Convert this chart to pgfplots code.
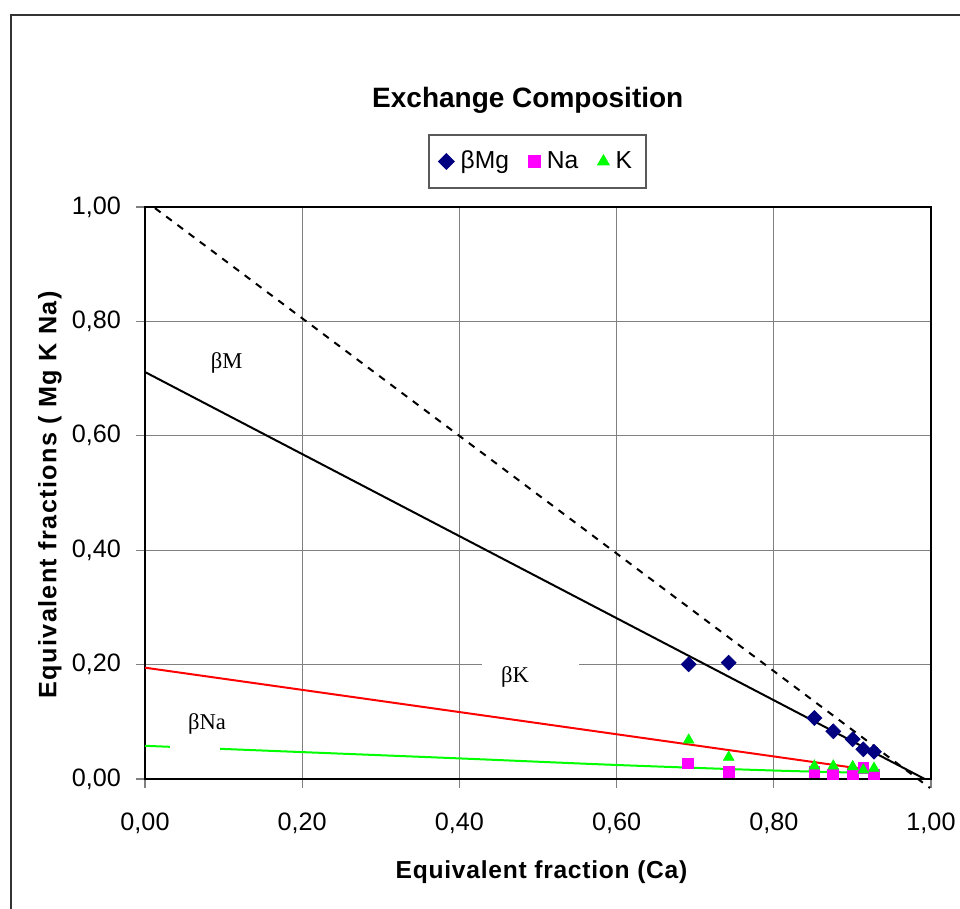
\documentclass[border=0pt]{standalone}
\usepackage{fontspec}
\setmainfont{Liberation Sans}
\newfontfamily\timesf{Liberation Serif}
\usepackage{pgfplots}
\pgfplotsset{compat=1.18}

\definecolor{mgblue}{RGB}{0,0,128}
\definecolor{namag}{RGB}{255,0,255}
\definecolor{kgreen}{RGB}{0,255,0}

\begin{document}
\begin{tikzpicture}
\useasboundingbox (-72.5pt,-65pt) rectangle (407.5pt,389.5pt);
\draw[line width=0.9pt, black!80] (-67pt,-80pt) -- (-67pt,382pt) -- (420pt,382pt);
\begin{axis}[
    at={(0,0)}, anchor=south west,
    scale only axis,
    width=393pt, height=286pt,
    xmin=0, xmax=1, ymin=0, ymax=1,
    xtick={0,0.2,0.4,0.6,0.8,1},
    ytick={0,0.2,0.4,0.6,0.8,1},
    xtick pos=bottom, ytick pos=left,
    grid=major,
    major grid style={gray, line width=0.6pt},
    axis line style={black, line width=1.1pt},
    tick align=outside,
    major tick length=4.5pt,
    tick style={gray, line width=0.6pt},
    /pgf/number format/assume math mode=true,
    /pgf/number format/.cd, fixed, fixed zerofill, precision=2, use comma,
    /pgfplots/.cd,
    ticklabel style={font=\fontsize{12.6}{14}\selectfont},
    xticklabel style={yshift=-9pt},
    yticklabel style={xshift=-4pt},
    xlabel={Equivalent fraction (Ca)},
    ylabel={Equivalent fractions ( Mg K Na)},
    xlabel style={at={(axis description cs:0.5045,-0.1626)}, anchor=center,
        font=\bfseries\fontsize{12.3}{14}\selectfont\addfontfeature{LetterSpace=3}},
    ylabel style={at={(axis description cs:-0.1209,0.4965)}, anchor=center,
        font=\bfseries\fontsize{12.6}{14}\selectfont\addfontfeature{LetterSpace=5.5}},
    clip=false,
    legend columns=3,
    legend style={at={(rel axis cs:0.4994,1.0795)}, anchor=center,
        draw=gray!70!black, line width=0.8pt,
        font=\fontsize{12.3}{14}\selectfont,
        inner xsep=5pt, inner ysep=6pt,
        /tikz/every even column/.append style={column sep=8pt},
        /tikz/every odd column/.append style={column sep=1.5pt}},
]
% lines
\addplot[black, line width=1pt, dash pattern=on 3.5pt off 3.5pt, forget plot]
    coordinates {(0.0127,0.998) (0.9987,-0.0157)};
\addplot[black, line width=1pt, forget plot]
    coordinates {(0,0.7115) (0.992,0.0)};
\addplot[red, line width=1pt, forget plot]
    coordinates {(0,0.1946) (0.927,0.0148)};
\addplot[kgreen, line width=1pt, smooth, forget plot]
    coordinates {(0,0.058) (0.2,0.047) (0.4,0.036) (0.6,0.0245) (0.8,0.0148) (0.927,0.0105)};
% label boxes
\fill[white] (axis cs:0.4286,0.138) rectangle (axis cs:0.5524,0.2168);
\fill[white] (axis cs:0.0318,0.045) rectangle (axis cs:0.0954,0.135);
\node[font=\timesf\fontsize{11.3}{13}\selectfont] at (axis cs:0.104,0.727) {βM};
\node[font=\timesf\fontsize{11.3}{13}\selectfont] at (axis cs:0.4707,0.178) {βK};
\node[font=\timesf\fontsize{11.3}{13}\selectfont] at (axis cs:0.079,0.096) {βNa};
% markers
\addplot[only marks, mark=square*, mark size=2.6pt, mark options={rotate=45, fill=mgblue, draw=mgblue}]
    coordinates {(0.6917,0.2005) (0.7426,0.2033) (0.8516,0.1066) (0.8757,0.0834) (0.9004,0.0694) (0.9139,0.0519) (0.9275,0.0477)};
\addlegendentry{βMg}
\addplot[only marks, mark=square*, mark size=2.7pt, mark options={fill=namag, draw=namag}]
    coordinates {(0.6907,0.0274) (0.7426,0.0117) (0.8516,0.0117) (0.8757,0.0080) (0.9004,0.0087) (0.9139,0.0187) (0.9275,0.0080)};
\addlegendentry{Na}
\addplot[only marks, mark=triangle*, mark size=3pt, mark options={fill=kgreen, draw=kgreen}]
    coordinates {(0.6917,0.0680) (0.7426,0.0380) (0.8516,0.0227) (0.8757,0.0227) (0.9004,0.0216) (0.9139,0.0157) (0.9275,0.0187)};
\addlegendentry{K}
\node[font=\bfseries\fontsize{14}{16}\selectfont] at (rel axis cs:0.487,1.187) {Exchange Composition};
\end{axis}
\end{tikzpicture}
\end{document}
